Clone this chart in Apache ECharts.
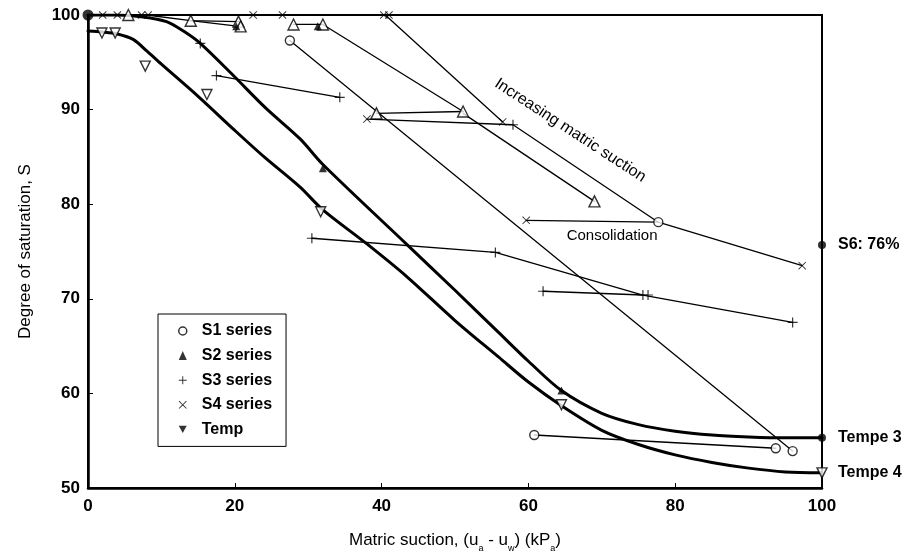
<!DOCTYPE html>
<html><head><meta charset="utf-8">
<script src="https://cdn.jsdelivr.net/npm/echarts@6/dist/echarts.min.js"></script>
<style>html,body{margin:0;padding:0;background:#fff}#c{width:912px;height:558px}</style>
</head><body><div id="c"></div>
<script>
// ---- data ----
const xTicks = [0, 20, 40, 60, 80, 100];
const yTicks = [50, 60, 70, 80, 90, 100];
const tempe3Curve = [[0,100],[4,100],[7.5,99.8],[10.7,99.3],[13,98.3],[15.3,97],[19.8,93.6],[24.3,90.1],[28.9,86.9],[32,84.2],[43.5,75.7],[50,70.9],[56,66.4],[60,63.4],[64.5,60.3],[70,57.9],[75,56.7],[80,56],[85,55.6],[90,55.4],[95,55.3],[100,55.3]];
const tempe4Curve = [[0,98.3],[2,98.2],[4,98],[6.2,97.4],[8,96.2],[10,94.8],[15,91.4],[20,87.8],[24,85],[28.9,81.8],[32,79.4],[38,75.8],[43.5,72.3],[50,67.7],[56,63.8],[60,61.2],[64.5,58.7],[70,56.1],[75,54.6],[80,53.5],[85,52.7],[90,52.1],[95,51.7],[100,51.6]];
const s1Lines = [[[27.5,97.3],[96,53.9]], [[60.8,55.6],[93.7,54.2]]];
const s1Points = [[27.5,97.3],[96,53.9],[60.8,55.6],[93.7,54.2],[77.7,78.1]];
const s2Lines = [[[8,100],[14,99.4],[20.5,99.3]], [[14,99.4],[20.6,98.8]], [[28,99],[32,99],[51.1,89.8]], [[39.3,89.6],[51.1,89.8]], [[51.1,89.6],[69,80.3]]];
const s2OpenPoints = [[5.5,100],[14,99.4],[20.5,99.3],[20.8,98.8],[28,99],[32,99],[39.3,89.6],[51.1,89.8],[69,80.3]];
const s2FilledPoints = [[31.3,98.8],[20.2,98.8],[32,83.8],[64.5,60.3]];
const s3Lines = [[[17.5,93.6],[34.3,91.3]], [[30.5,76.4],[55.5,74.9],[75.6,70.4],[96,67.5]], [[62,70.8],[75.6,70.4]]];
const s3Points = [[15.3,97],[17.5,93.6],[34.3,91.3],[30.5,76.4],[55.5,74.9],[75.6,70.4],[76.3,70.4],[96,67.5],[62,70.8],[57.9,88.4]];
const s4Lines = [[[0,100],[100,100]], [[40.5,100],[56.5,88.7]], [[38,89],[57.9,88.4],[77.7,78.1]], [[59.7,78.3],[77.7,78.1],[97.3,73.5]]];
const s4Points = [[2,100],[4,100],[7.3,100],[8.2,100],[22.5,100],[26.5,100],[40.3,100],[41,100],[38,89],[56.5,88.7],[59.7,78.3],[97.3,73.5]];
const tempPoints = [[1.9,98.1],[3.7,98.1],[7.8,94.6],[16.2,91.6],[31.7,79.2],[64.5,58.8]];
const startDot = [[0,100]];
const endLabels = ['S6: 76%', 'Tempe 3', 'Tempe 4'];
const endValues = [75.7, 55.3, 51.6];
const legendNames = ['S1 series', 'S2 series', 'S3 series', 'S4 series', 'Temp'];

// ---- styling ----
const FONT = '"Liberation Sans", Arial, sans-serif';
const PLUS = 'path://M0,4.4H10V5.6H0Z M4.4,0H5.6V10H4.4Z';
const CROSS = 'path://M0.8,0L5,4.2L9.2,0L10,0.8L5.8,5L10,9.2L9.2,10L5,5.8L0.8,10L0,9.2L4.2,5L0,0.8Z';
const DTRI = 'path://M0,0L10,0L5,9Z';
const open = {color:'#fff', borderColor:'#000', borderWidth:1.4};

const series = [];
function addLine(seg, w, smooth) {
  series.push({type:'line', data:seg, symbol:'none', smooth:smooth||false,
    lineStyle:{color:'#000', width:w, join:'round', cap:'round'}, silent:true, z:2, animation:false});
}
[s1Lines, s2Lines, s3Lines, s4Lines].forEach(g => g.forEach(s => addLine(s, 1.3)));
addLine(tempe3Curve, 3, 0.3);
addLine(tempe4Curve, 3, 0.3);

series.push({name:legendNames[0], type:'scatter', data:s1Points, symbol:'circle', symbolSize:9, itemStyle:open, z:5});
series.push({name:legendNames[1], type:'scatter', data:s2OpenPoints, symbol:'triangle', symbolSize:11, itemStyle:open, z:5});
series.push({name:legendNames[1], type:'scatter', data:s2FilledPoints, symbol:'triangle', symbolSize:8, itemStyle:{color:'#000'}, z:6});
series.push({name:legendNames[2], type:'scatter', data:s3Points, symbol:PLUS, symbolSize:10, itemStyle:{color:'#000'}, z:5});
series.push({name:legendNames[3], type:'scatter', data:s4Points, symbol:CROSS, symbolSize:8, itemStyle:{color:'#000'}, z:5});
series.push({name:legendNames[4], type:'scatter', data:tempPoints, symbol:DTRI, symbolSize:10, itemStyle:open, z:5});
series.push({type:'scatter', data:startDot, symbol:'circle', symbolSize:11, itemStyle:{color:'#000'}, z:6});
series.push({type:'scatter', z:6,
  data: endValues.map((v,i) => ({value:[100, v], name:endLabels[i],
      symbol: i === 2 ? DTRI : 'circle', symbolSize: i === 2 ? 10 : 8,
      itemStyle: i === 2 ? open : {color:'#000'}}))});

const legendIcons = ['circle', 'triangle', PLUS, CROSS, DTRI];
const legendStyles = [{color:'#fff', borderColor:'#000', borderWidth:1.5}, {color:'#000', borderWidth:0}, {color:'#000', borderWidth:0}, {color:'#000', borderWidth:0}, {color:'#000', borderWidth:0}];

const chart = echarts.init(document.getElementById('c'), null, {renderer:'canvas'});
const option = {
  animation:false,
  backgroundColor:'#fff',
  grid:{left:88, right:90, top:15, bottom:61, show:true, borderColor:'#000', borderWidth:2, backgroundColor:'transparent'},
  xAxis:{type:'value', min:xTicks[0], max:xTicks[xTicks.length-1], interval:xTicks[1]-xTicks[0],
    axisLine:{show:true, onZero:false, lineStyle:{color:'#000', width:2.5}},
    axisTick:{show:true, inside:true, length:5, lineStyle:{color:'#000', width:1}},
    splitLine:{show:false},
    axisLabel:{color:'#000', fontSize:17, fontWeight:'bold', fontFamily:FONT, margin:10},
    name:'Matric suction, (u{s|a} - u{s|w}) (kP{s|a})', nameLocation:'middle', nameGap:42,
    nameTextStyle:{color:'#000', fontSize:17, fontFamily:FONT, lineHeight:20,
      rich:{s:{fontSize:9, fontFamily:FONT, color:'#000', lineHeight:20, verticalAlign:'bottom', padding:[0,0,-3,0]}}}},
  yAxis:{type:'value', min:yTicks[0], max:yTicks[yTicks.length-1], interval:yTicks[1]-yTicks[0],
    axisLine:{show:true, onZero:false, lineStyle:{color:'#000', width:2.5}},
    axisTick:{show:true, inside:true, length:5, lineStyle:{color:'#000', width:1}},
    splitLine:{show:false},
    axisLabel:{color:'#000', fontSize:17, fontWeight:'bold', fontFamily:FONT, margin:8},
    name:'Degree of saturation, S', nameLocation:'middle', nameGap:54, nameRotate:90,
    nameTextStyle:{color:'#000', fontSize:17, fontFamily:FONT}},
  legend:{orient:'vertical', left:158, top:314, padding:[9,14,9,20], itemGap:8.6,
    itemWidth:8, itemHeight:9, borderColor:'#000', borderWidth:1, backgroundColor:'#fff',
    selectedMode:false,
    textStyle:{color:'#000', fontSize:16, lineHeight:14, fontWeight:'bold', fontFamily:FONT, padding:[0,0,0,10]},
    data: legendNames.map((n,i) => ({name:n, icon:legendIcons[i], itemStyle:legendStyles[i]}))},
  series: series
};
chart.setOption(option);

const pInc = chart.convertToPixel({gridIndex:0}, [65.7, 87.8]);
const pCon = chart.convertToPixel({gridIndex:0}, [71.4, 76.7]);
const graphics = [
  {type:'text', x:pInc[0], y:pInc[1], rotation:-33*Math.PI/180, z:10,
   style:{text:'Increasing matric suction', font:'16px "Liberation Sans", Arial, sans-serif', fill:'#000', align:'center', verticalAlign:'middle'}},
  {type:'text', x:pCon[0], y:pCon[1], z:10,
   style:{text:'Consolidation', font:'15px "Liberation Sans", Arial, sans-serif', fill:'#000', align:'center', verticalAlign:'middle'}}
];
endValues.forEach((v, i) => {
  const p = chart.convertToPixel({gridIndex:0}, [100, v]);
  graphics.push({type:'text', x:p[0] + 16, y:p[1], z:10,
    style:{text:endLabels[i], font:'bold 16px "Liberation Sans", Arial, sans-serif', fill:'#000', align:'left', verticalAlign:'middle'}});
});
chart.setOption({graphic:graphics});
</script></body></html>
